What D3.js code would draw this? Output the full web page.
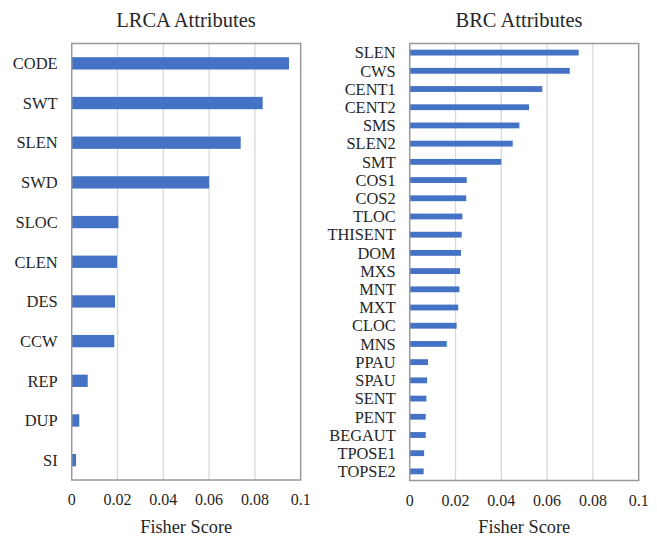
<!DOCTYPE html>
<html><head><meta charset="utf-8">
<script src="https://cdn.jsdelivr.net/npm/d3@7"></script>
<style>body{margin:0;background:#fff}svg{display:block}</style>
</head><body><svg id="c" width="657" height="536"></svg>
<script>
const lrcaCategories = ["CODE","SWT","SLEN","SWD","SLOC","CLEN","DES","CCW","REP","DUP","SI"];
const lrcaValues = [0.0949,0.0834,0.0738,0.0600,0.0204,0.0198,0.0189,0.0186,0.0070,0.0033,0.0019];
const brcCategories = ["SLEN","CWS","CENT1","CENT2","SMS","SLEN2","SMT","COS1","COS2","TLOC","THISENT","DOM","MXS","MNT","MXT","CLOC","MNS","PPAU","SPAU","SENT","PENT","BEGAUT","TPOSE1","TOPSE2"];
const brcValues = [0.0738,0.0699,0.0579,0.0521,0.0479,0.0450,0.0400,0.0249,0.0247,0.0230,0.0227,0.0224,0.0220,0.0217,0.0212,0.0205,0.0162,0.0080,0.0076,0.0073,0.0070,0.0070,0.0063,0.0061];
const xTicks = [0,0.02,0.04,0.06,0.08,0.1];
const xTickLabels = ["0","0.02","0.04","0.06","0.08","0.1"];
const titles = ["LRCA Attributes","BRC Attributes"];
const axisTitle = "Fisher Score";

const FONT = "'Liberation Serif', 'Times New Roman', 'DejaVu Serif', serif";
const svg = d3.select("#c").attr("font-family", FONT);
function panel(cfg){
  const g = svg.append("g").attr("font-family", FONT).attr("fill","#262626");
  const x = d3.scaleLinear().domain([0,0.1]).range([cfg.x0,cfg.x1]);
  const y = d3.scaleBand().domain(cfg.cats).range([cfg.y0,cfg.y1]).paddingInner(cfg.pad).paddingOuter(cfg.pad/2);
  g.selectAll("line.grid").data(xTicks.slice(1,-1)).join("line")
    .attr("x1",d=>x(d)).attr("x2",d=>x(d)).attr("y1",cfg.y0).attr("y2",cfg.y1)
    .attr("stroke","#d9d9d9").attr("stroke-width",1.3);
  g.selectAll("rect.bar").data(cfg.vals).join("rect")
    .attr("x",x(0)).attr("y",(d,i)=>y(cfg.cats[i]))
    .attr("width",d=>x(d)-x(0)).attr("height",y.bandwidth())
    .attr("fill","#4472c4");
  g.append("rect").attr("x",cfg.x0).attr("y",cfg.y0).attr("width",cfg.x1-cfg.x0).attr("height",cfg.y1-cfg.y0)
    .attr("fill","none").attr("stroke","#999999").attr("stroke-width",1.5);
  g.selectAll("text.cat").data(cfg.cats).join("text")
    .attr("font-family",FONT)
    .attr("x",cfg.x0-cfg.gap).attr("y",d=>y(d)+y.bandwidth()/2).attr("dy","0.35em")
    .attr("text-anchor","end").attr("font-size",cfg.catSize).text(d=>d);
  g.selectAll("text.tick").data(xTicks).join("text")
    .attr("font-family",FONT)
    .attr("x",d=>x(d)).attr("y",cfg.y1+25).attr("text-anchor","middle")
    .attr("font-size",16).text((d,i)=>xTickLabels[i]);
  g.append("text").attr("font-family",FONT).attr("x",(cfg.x0+cfg.x1)/2).attr("y",533).attr("text-anchor","middle")
    .attr("font-size",18.3).text(axisTitle);
  g.append("text").attr("font-family",FONT).attr("x",cfg.tx).attr("y",27).attr("text-anchor","middle")
    .attr("font-size",20.5).text(cfg.title);
}
panel({x0:71.7,x1:300.7,y0:43.5,y1:480,cats:lrcaCategories,vals:lrcaValues,pad:0.69,catSize:16.5,gap:14,title:titles[0],tx:186});
panel({x0:409.7,x1:638.7,y0:43.5,y1:480.5,cats:brcCategories,vals:brcValues,pad:0.68,catSize:16.4,gap:14,title:titles[1],tx:519});
</script></body></html>
